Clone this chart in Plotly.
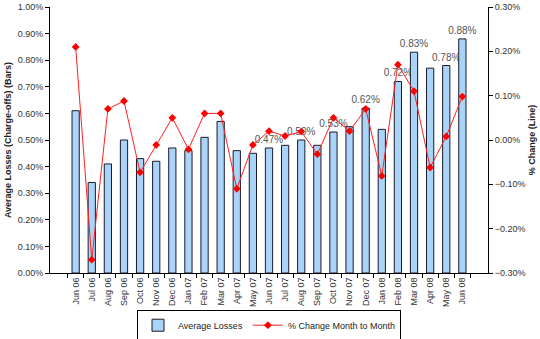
import plotly.graph_objects as go

months = ["Jun 06","Jul 06","Aug 06","Sep 06","Oct 06","Nov 06","Dec 06","Jan 07","Feb 07","Mar 07",
          "Apr 07","May 07","Jun 07","Jul 07","Aug 07","Sep 07","Oct 07","Nov 07","Dec 07","Jan 08",
          "Feb 08","Mar 08","Apr 08","May 08","Jun 08"]
avg_losses = [0.0061,0.0034,0.0041,0.0050,0.0043,0.0042,0.0047,0.0046,0.0051,0.0057,
              0.0046,0.0045,0.0047,0.0048,0.0050,0.0048,0.0053,0.0055,0.0062,0.0054,
              0.0072,0.0083,0.0077,0.0078,0.0088]
pct_change = [0.0021,-0.0027,0.0007,0.00088,-0.00073,-0.00011,0.0005,-0.00021,0.0006,0.0006,
              -0.0011,-0.00011,0.0002,0.00009,0.00019,-0.00032,0.0005,0.0002,0.0007,-0.00081,
              0.0017,0.0011,-0.00062,0.00008,0.00098]
labeled = ["Jun 07","Aug 07","Oct 07","Dec 07","Feb 08","Mar 08","May 08","Jun 08"]

bar_text = [f"{v*100:.2f}%" if m in labeled else "" for m, v in zip(months, avg_losses)]

FONT = "Liberation Sans, Arial, sans-serif"

fig = go.Figure()
fig.add_trace(go.Bar(
    x=months, y=avg_losses, name="Average Losses",
    marker=dict(color="#a9d4f8", line=dict(color="#1a1a2a", width=1)),
    width=0.45,
    text=bar_text, textposition="outside", cliponaxis=False, constraintext="none",
    textfont=dict(family=FONT, size=10, color="#555555"),
))
fig.add_trace(go.Scatter(
    x=months, y=pct_change, name="% Change Month to Month", yaxis="y2",
    mode="lines+markers",
    line=dict(color="#ff2020", width=1),
    marker=dict(symbol="diamond", size=6, color="#ff0000"),
))

axis_common = dict(showgrid=False, zeroline=False, showline=True, linecolor="#000000", linewidth=1,
                   ticks="outside", ticklen=4, tickcolor="#000000", automargin=False,
                   tickfont=dict(family=FONT, size=9, color="#333333"))

fig.update_layout(
    width=540, height=339,
    margin=dict(l=50, r=52, t=7, b=66, autoexpand=False),
    plot_bgcolor="white", paper_bgcolor="white",
    xaxis=dict(**axis_common, tickangle=-90, tickson="boundaries", type="category"),
    yaxis=dict(**axis_common, range=[0, 0.01], dtick=0.001, tickformat=".2%",
               title=dict(text="<b>Average Losses (Charge-offs) (Bars)</b>",
                          font=dict(family=FONT, size=9, color="#222222"), standoff=4)),
    yaxis2=dict(**axis_common, overlaying="y", side="right", range=[-0.003, 0.003], dtick=0.001,
                tickformat=".2%",
                title=dict(text="<b>% Change (Line)</b>", font=dict(family=FONT, size=9, color="#222222"),
                           standoff=4)),
    legend=dict(orientation="h", x=0.5, xanchor="center", y=-0.138, yanchor="top",
                bordercolor="#000000", borderwidth=1,
                font=dict(family=FONT, size=9, color="#222222"),
                itemwidth=30, tracegroupgap=0),
    showlegend=True,
    font=dict(family=FONT),
)

fig.write_html("out.html")
